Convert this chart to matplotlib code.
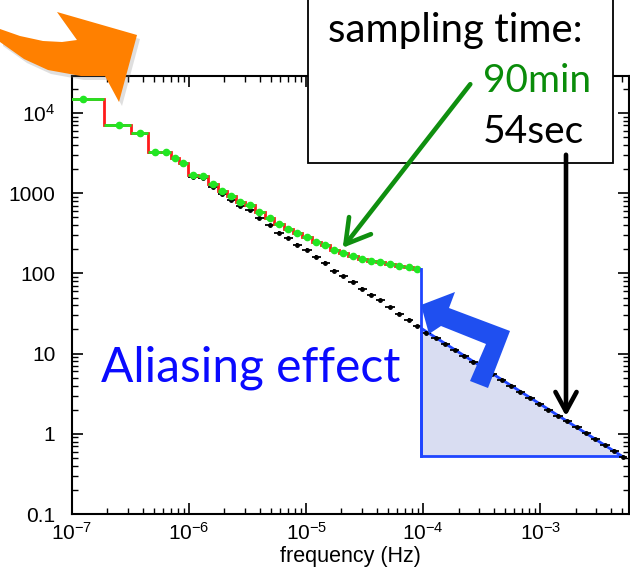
import matplotlib
matplotlib.use("Agg")
import matplotlib.pyplot as plt
import numpy as np
from matplotlib.patches import FancyArrowPatch, Polygon, Rectangle
from matplotlib.ticker import FixedLocator, LogLocator, NullFormatter
from matplotlib.transforms import Affine2D

plt.rcParams["font.family"] = ["Liberation Sans", "DejaVu Sans"]
plt.rcParams["mathtext.default"] = "regular"

# binned spectrum with 90 min sampling (green points, red steps)
freq_90min = [1.24e-7, 2.52e-7, 3.81e-7, 5.12e-7, 6.32e-7, 7.59e-7, 8.88e-7,
              1.08e-6, 1.32e-6, 1.59e-6, 1.91e-6, 2.29e-6, 2.73e-6, 3.28e-6,
              3.99e-6, 4.86e-6, 5.80e-6, 7.01e-6, 8.38e-6, 1.01e-5, 1.22e-5,
              1.45e-5, 1.74e-5, 2.08e-5, 2.51e-5, 2.99e-5, 3.57e-5, 4.29e-5,
              5.15e-5, 6.20e-5, 7.48e-5, 8.83e-5]
psd_90min = [14840, 7150, 5570, 3275, 3240, 2780, 2360, 1690, 1620, 1300, 1060,
             936, 788, 714, 584, 497, 418, 362, 318, 282, 249, 224, 198, 181,
             166, 153, 145, 137, 132, 125, 120, 115]

# binned spectrum with 54 s sampling (black points)
freq_54sec = freq_90min + [1.06e-4, 1.28e-4, 1.54e-4, 1.85e-4, 2.22e-4,
                           2.68e-4, 3.22e-4, 3.87e-4, 4.66e-4, 5.60e-4,
                           6.74e-4, 8.10e-4, 9.75e-4, 1.17e-3, 1.41e-3,
                           1.70e-3, 2.04e-3, 2.46e-3, 2.95e-3, 3.55e-3,
                           4.27e-3, 5.10e-3]
psd_54sec = [14500, 7100, 5500, 3200, 3150, 2760, 2300, 1600, 1570, 1200, 972,
             834, 688, 613, 487, 398, 319, 274, 228, 198, 160, 136, 107, 91.7,
             77.9, 64.4, 54.2, 46.0, 37.9, 31.3, 26.4, 21.8,
             18.3, 15.5, 13.1, 11.0, 9.29, 7.83, 6.61, 5.57, 4.70, 3.96, 3.34,
             2.82, 2.38, 2.00, 1.69, 1.43, 1.20, 1.01, 0.855, 0.721, 0.608, 0.513]

# aliased power region
alias_top = 21.0
alias_bottom = 0.53
alias_fmax = 5.0e-3

y_ticks = [0.1, 1, 10, 100, 1000, 1e4]
y_labels = ["0.1", "1", "10", "100", "1000", "$10^4$"]
x_ticks = [1e-7, 1e-6, 1e-5, 1e-4, 1e-3]
x_labels = ["$10^{-7}$", "$10^{-6}$", "$10^{-5}$", "$10^{-4}$", "$10^{-3}$"]


def bin_edges(f):
    f = np.asarray(f)
    mid = (f[1:] + f[:-1]) / 2
    lo = np.r_[2 * f[0] - mid[0], mid]
    hi = np.r_[mid, 2 * f[-1] - mid[-1]]
    return lo, hi


W, H = 630, 567
fig = plt.figure(figsize=(W / 100, H / 100), dpi=100)
ax = fig.add_axes([72 / W, 1 - 514 / H, 556.5 / W, 438 / H])
pix = Affine2D().scale(1 / W, -1 / H).translate(0, 1) + fig.transFigure

f90 = np.array(freq_90min)
p90 = np.array(psd_90min)
f54 = np.array(freq_54sec)
p54 = np.array(psd_54sec)
lo90, hi90 = bin_edges(f90)
lo54, hi54 = bin_edges(f54)
f_cut = hi90[-1]

# aliasing triangle
ax.fill([f_cut, f_cut, alias_fmax], [alias_top, alias_bottom, alias_bottom],
        facecolor="#d9ddf2", edgecolor="#1f45ff", lw=2, zorder=1)

ax.errorbar(f54, p54, xerr=[f54 - lo54, hi54 - f54], yerr=0.05 * p54,
            fmt="o", ms=2.5, color="black", elinewidth=1.3, capsize=0, zorder=2)
ax.stairs(p90, np.r_[lo90[0], hi90], baseline=None, color="#ff1a1a", lw=2, zorder=3)
ax.errorbar(f90, p90, xerr=[f90 - lo90, hi90 - f90], fmt="o", ms=4.5,
            color="#22e622", elinewidth=2, capsize=0, zorder=4)
ax.plot([f_cut, f_cut], [p90[-1], alias_bottom], color="#1f45ff", lw=2, zorder=5)

ax.set_xscale("log")
ax.set_yscale("log")
ax.set_xlim(1e-7, 5.65e-3)
ax.set_ylim(0.1, 2.9e4)
ax.xaxis.set_major_locator(FixedLocator(x_ticks))
ax.set_xticklabels(x_labels)
ax.yaxis.set_major_locator(FixedLocator(y_ticks))
ax.set_yticklabels(y_labels)
for axis in (ax.xaxis, ax.yaxis):
    axis.set_minor_locator(LogLocator(base=10, subs=np.arange(2, 10), numticks=20))
    axis.set_minor_formatter(NullFormatter())
ax.tick_params(which="both", direction="in", top=True, right=True, labelsize=15)
ax.tick_params(which="major", length=8, width=1.2)
ax.tick_params(which="minor", length=4, width=1)
ax.tick_params(axis="y", pad=12)
ax.tick_params(axis="x", pad=6)
for s in ax.spines.values():
    s.set_linewidth(1.5)
ax.set_xlabel("frequency (Hz)", fontsize=15.5, labelpad=1)

# blue bent arrow pointing back to the cut
bent = [(421, 305), (455, 292), (449, 308), (510, 331), (488, 388),
        (470, 381), (486, 344), (441, 326), (429, 334)]
fig.add_artist(Polygon(bent, closed=True, transform=pix, facecolor="#1f4ff0",
                       edgecolor="none", zorder=6))
fig.text(251, 382, "Aliasing effect", transform=pix, ha="center", va="baseline",
         fontsize=34.5, family="Lato", color="#0a0aff", zorder=6)

# orange curved arrow at top left
orange = [(0, 29), (20, 36), (43, 41), (62, 42), (77, 40), (57, 12), (137, 35),
          (119, 102), (105, 76), (81, 76), (48, 70), (24, 59), (0, 42)]
shadow = [(x + 3, y + 4) for x, y in orange]
fig.add_artist(Polygon(shadow, closed=True, transform=pix, facecolor="0.5",
                       alpha=0.25, edgecolor="none", zorder=6))
fig.add_artist(Polygon(orange, closed=True, transform=pix, facecolor="#ff8000",
                       edgecolor="none", zorder=7))

# sampling time box
fig.add_artist(Rectangle((308, -10), 305, 173, transform=pix, facecolor="white",
                         edgecolor="black", lw=1.3, zorder=6, clip_on=False))
fig.text(328, 42, "sampling time:", transform=pix, va="baseline", fontsize=29,
         family="Lato", color="black", zorder=7)
fig.text(483, 92, "90min", transform=pix, va="baseline", fontsize=28,
         family="Lato", color="#0a8c0a", zorder=7)
fig.text(483, 143, "54sec", transform=pix, va="baseline", fontsize=28,
         family="Lato", color="black", zorder=7)

fig.add_artist(FancyArrowPatch((472, 82), (341, 250), transform=pix,
                               arrowstyle="->,head_length=0.85,head_width=0.5",
                               mutation_scale=20, lw=3.3, color="#0f8f0f", zorder=8))
fig.add_artist(FancyArrowPatch((566, 152), (566, 419), transform=pix,
                               arrowstyle="->,head_length=0.7,head_width=0.38",
                               mutation_scale=20, lw=3.3, color="black", zorder=8))

fig.savefig("out.png", dpi=100)
